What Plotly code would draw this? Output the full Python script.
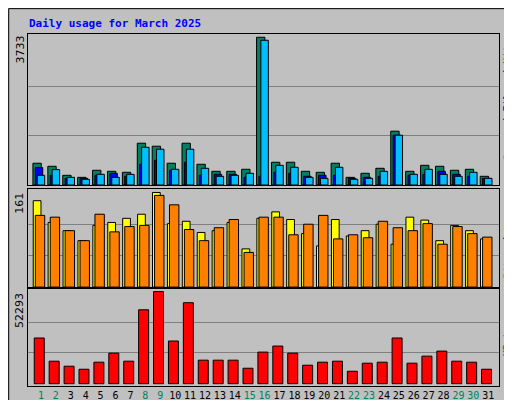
import plotly.graph_objects as go

days = list(range(1, 32))
hits = [550,473,245,194,372,346,321,1056,980,550,1056,524,346,346,397,3733,
        575,575,346,321,550,194,296,422,1360,346,498,473,372,397,220]
files = [440,245,169,169,245,296,220,524,625,372,575,245,270,270,194,220,
         321,296,220,245,245,169,194,220,1258,245,270,346,270,220,169]
pages = [245,389,194,144,270,194,270,954,904,397,904,422,220,245,296,3657,
         498,448,194,169,448,144,169,346,1258,270,397,270,220,321,169]
visits = [147,110,96,79,105,110,117,124,161,108,112,93,96,110,65,117,
          128,115,91,70,115,87,96,107,73,119,114,79,105,96,82]
sites = [122,119,96,79,124,94,103,105,156,140,98,79,101,115,59,119,
         119,89,107,122,82,89,84,112,101,96,108,73,103,91,85]
kbytes = [25950,12785,9922,8205,12212,17364,12785,41980,52293,24234,45987,13357,
          13357,13357,8778,17937,21372,17364,10495,12212,12785,7060,11640,12212,
          25950,11640,15647,18510,12785,12212,8205]
weekend = {1,2,8,9,15,16,22,23,29,30}

BG = "#C0C0C0"
fig = go.Figure()
line = dict(color="black", width=1)

def bar(y, color, off, w, xa, ya):
    fig.add_trace(go.Bar(x=days, y=y, marker=dict(color=color, line=line),
                         offset=off, width=w, xaxis=xa, yaxis=ya, showlegend=False))

bar(hits, "#008060", -0.54, 0.56, "x", "y")
bar(files, "#0000FF", -0.38, 0.50, "x", "y")
bar(pages, "#00BFFF", -0.25, 0.50, "x", "y")
bar(visits, "#FFFF00", -0.52, 0.52, "x2", "y2")
bar(sites, "#FF8000", -0.38, 0.63, "x2", "y2")
bar(kbytes, "#FF0000", -0.45, 0.67, "x3", "y3")

xr = [0.13, 31.72]
ax = dict(range=xr, showgrid=False, zeroline=False, showline=True, linecolor="black",
          linewidth=1, mirror=True, fixedrange=True, automargin=False)
ticktext = [f"<span style='color:{'#008060' if d in weekend else 'black'}'>{d}</span>" for d in days]

def yax(dom, top, mx, lo=0):
    return dict(domain=dom, range=[lo, top], tickvals=[mx/3, 2*mx/3], showticklabels=False,
                ticks="", gridcolor="#808080", gridwidth=1, zeroline=False, showline=True,
                linecolor="black", mirror=True, automargin=False)

hmax, vmax, kmax = max(hits), max(visits), max(kbytes)
fig.update_layout(
    width=512, height=400, paper_bgcolor=BG, plot_bgcolor=BG,
    margin=dict(l=20, r=21, t=26, b=22, autoexpand=False), barmode="overlay",
    font=dict(family="DejaVu Sans Mono", size=11, color="black"),
    xaxis=dict(ax, anchor="y", showticklabels=False),
    xaxis2=dict(ax, anchor="y2", showticklabels=False),
    xaxis3=dict(ax, anchor="y3", tickvals=days, ticktext=ticktext, ticks="",
                tickangle=0, tickfont=dict(size=10, family="DejaVu Sans Mono")),
    yaxis=yax([0.571, 1], hmax*1.022, hmax),
    yaxis2=yax([0.281, 0.560], vmax*1.038, vmax),
    yaxis3=yax([0, 0.276], kmax*1.03, kmax, lo=-kmax*0.025),
    showlegend=False,
)

fig.add_annotation(text="<b>Daily usage for March 2025</b>", xref="paper", yref="paper",
                   x=-0.002, y=1.031, xanchor="left", yanchor="middle", showarrow=False,
                   font=dict(color="#0000FF", size=11, family="DejaVu Sans Mono"))
for txt, yy in [(str(hmax), 1.0), (str(vmax), 0.555), (str(kmax), 0.27)]:
    fig.add_annotation(text=txt, xref="paper", yref="paper", x=-0.018, y=yy,
                       xanchor="center", yanchor="top", textangle=-90, showarrow=False,
                       font=dict(size=11, family="DejaVu Sans"))
rlab = [("<span style='color:#00BFFF'>Pages</span> / <span style='color:#0000FF'>Files</span> / "
         "<span style='color:#008060'>Hits</span>", 0.99),
        ("<span style='color:#FF8000'>Sites</span> / <span style='color:#E0E000'>Visits</span>", 0.55),
        ("<span style='color:#FF0000'>KBytes</span>", 0.08)]
for i, (txt, yy) in enumerate(rlab):
    fig.add_annotation(text=txt, xref="paper", yref="paper", x=1.018, y=yy,
                       xanchor="center", yanchor="top" if i < 2 else "bottom",
                       textangle=-90, showarrow=False,
                       font=dict(size=10, family="DejaVu Sans Mono"))

# outer frame with 3D edges
fig.add_shape(type="rect", xref="paper", yref="paper", x0=-0.041, x1=1.041,
              y0=-0.058, y1=1.072, line=dict(color="black", width=1), layer="below")
fig.add_shape(type="rect", xref="paper", yref="paper", x0=1.026, x1=1.038,
              y0=-0.051, y1=1.065, fillcolor="#808080", line_width=0, layer="below")
fig.add_shape(type="rect", xref="paper", yref="paper", x0=-0.036, x1=1.038,
              y0=-0.054, y1=-0.042, fillcolor="#808080", line_width=0, layer="below")

fig.write_html("out.html")
